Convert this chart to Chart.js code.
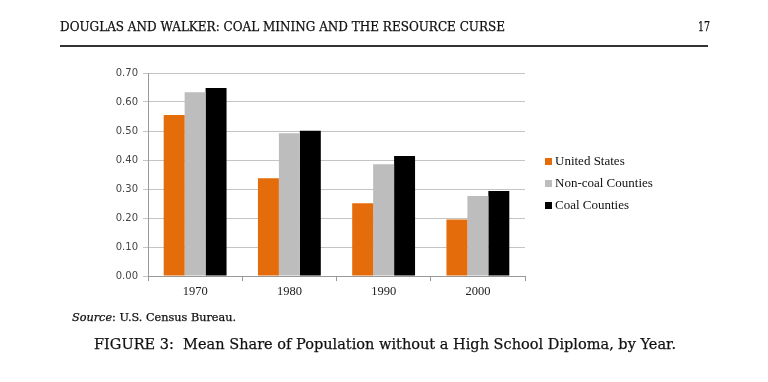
<!DOCTYPE html>
<html><head><meta charset="utf-8">
<script src="https://cdn.jsdelivr.net/npm/chart.js@4/dist/chart.umd.min.js"></script>
<style>
html,body{margin:0;padding:0;background:#fff;}
#wrap{position:relative;width:768px;height:382px;overflow:hidden;font-family:"DejaVu Serif",serif;color:#111;}
canvas{position:absolute;left:0;top:0;}
.t{position:absolute;white-space:nowrap;transform-origin:0 50%;line-height:1;-webkit-text-stroke:0.25px #111;}
#rule{position:absolute;left:60px;top:45px;width:648px;height:2px;background:#333;}
.lg{position:absolute;left:545px;font-size:13px;font-family:"Liberation Serif",serif;color:#111;white-space:nowrap;}
.lg span{display:inline-block;width:7px;height:7px;margin-right:3px;vertical-align:0px;}
</style></head>
<body><div id="wrap">
<canvas id="c" width="768" height="382"></canvas>
<div class="t" id="hdr" data-w="445" style="left:60px;top:21px;font-size:12.7px;">DOUGLAS AND WALKER: COAL MINING AND THE RESOURCE CURSE</div>
<div class="t" id="pg" data-w="12" style="left:698px;top:21px;font-size:12.7px;">17</div>
<div id="rule"></div>
<div class="t" id="src" data-w="164" style="left:72px;top:312px;font-size:10.5px;"><i>Source</i>: U.S. Census Bureau.</div>
<div class="t" id="cap" data-w="582" style="left:94px;top:336.5px;font-size:15px;">FIGURE 3:&nbsp; Mean Share of Population without a High School Diploma, by Year.</div>
<div id="legend"></div>
</div>
<script>
const categories = ["1970","1980","1990","2000"];
const seriesNames = ["United States","Non-coal Counties","Coal Counties"];
const unitedStates = [0.555, 0.337, 0.251, 0.195];
const nonCoal = [0.634, 0.492, 0.385, 0.276];
const coal = [0.648, 0.501, 0.414, 0.293];
const colors = ["#E46C0A","#BDBDBD","#000000"];

document.querySelectorAll('.t[data-w]').forEach(el=>{
  const w = el.getBoundingClientRect().width;
  const target = parseFloat(el.dataset.w);
  el.style.transform = 'scaleX(' + (target/w) + ')';
});

const lg = document.getElementById('legend');
seriesNames.forEach((n,i)=>{
  const d = document.createElement('div');
  d.className='lg';
  d.style.top = (153 + i*22) + 'px';
  d.innerHTML = '<span style="background:'+colors[i]+'"></span>'+n;
  lg.appendChild(d);
});

new Chart(document.getElementById('c'), {
  type:'bar',
  data:{
    labels: categories,
    datasets:[
      {label:seriesNames[0], data:unitedStates, backgroundColor:colors[0]},
      {label:seriesNames[1], data:nonCoal, backgroundColor:colors[1]},
      {label:seriesNames[2], data:coal, backgroundColor:colors[2]}
    ]
  },
  options:{
    responsive:false, animation:false,
    layout:{padding:{left:100,right:243,top:73,bottom:82}},
    plugins:{legend:{display:false}, tooltip:{enabled:false}},
    datasets:{bar:{barPercentage:1, categoryPercentage:0.667}},
    scales:{
      x:{
        grid:{offset:true, drawOnChartArea:false, tickLength:5, color:'#999'},
        border:{color:'#999'},
        ticks:{font:{family:'"Liberation Serif", serif', size:12.5}, color:'#222', padding:3},
        afterFit(s){ s.height = 24; }
      },
      y:{
        min:0, max:0.7,
        grid:{color:'#c4c4c4', tickLength:5},
        border:{color:'#999'},
        ticks:{stepSize:0.1, font:{family:'"DejaVu Sans", sans-serif', size:10}, color:'#444', padding:5, callback:v=>v.toFixed(2)},
        afterFit(s){ s.width = 48; }
      }
    }
  }
});
</script>
</body></html>
